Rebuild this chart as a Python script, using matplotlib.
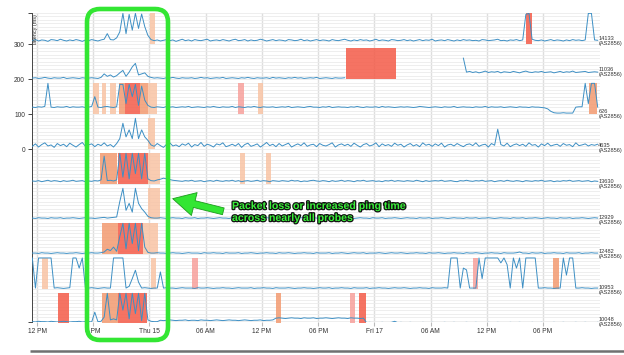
import numpy as np
import matplotlib
matplotlib.use("Agg")
import matplotlib.pyplot as plt
from matplotlib.patches import FancyBboxPatch, FancyArrowPatch
import matplotlib.patheffects as pe

plt.rcParams['font.family'] = ['Liberation Sans', 'DejaVu Sans']

# probes, top to bottom
probes = ["14133", "11036", "626", "4635", "13630", "12929", "12482", "10953", "10048"]
asn = "AS2856"

# ping samples every 20 minutes starting 11:30 Wed (ms above each probe's floor)
p14133 = [10,13,9,12,11,8,13,12,10,14,11,9,12,10,13,11,8,12,10,13,
          11,9,12,14,30,13,12,18,35,88,30,85,40,88,45,86,50,25,13,10,
          12,9,11,13,10,12,8,11,14,10,12,9,13,11,10,12,14,9,11,12,
          10,13,11,9,12,14,10,11,13,9,12,10,11,14,12,9,11,13,10,12,
          11,9,13,12,10,11,14,10,12,9,11,13,10,12,11,9,13,11,10,12,
          14,11,9,12,10,13,11,12,9,11,14,10,12,11,9,13,12,10,11,13,
          10,12,9,11,13,10,12,11,14,9,11,12,10,13,11,9,12,10,13,11,
          12,10,11,9,13,12,10,11,12,14,10,11,9,12,11,13,10,12,85,88,
          14,11,10,12,9,11,13,10,12,11,9,12,10,13,11,12,10,12,88,88,12,11]
p11036 = [3,4,2,3,5,3,2,4,3,3,5,2,3,4,3,2,4,3,3,4,
          3,2,5,15,8,12,6,10,18,25,8,20,35,45,12,15,18,8,5,3,
          4,3,2,4,3,5,3,2,4,3,3,4,2,3,5,3,4,2,3,4,
          3,5,2,3,4,3,2,4,3,5,3,2,4,3,3,4,2,5,3,4,
          3,2,4,3,5,3,4,2,3,4,3,5,2,3,4,3,2,4,3,3,
          4] + [None] * 37 + [
          60,20,22,19,21,18,20,23,19,21,20,22,18,21,20,19,22,20,18,21,23,20,
          19,21,20,22,19,20,21,18,20,22,19,21,20,23,19,20,21,22,19,20,21,20]
p626 = [20,19,21,20,22,88,20,19,21,20,20,22,19,21,20,20,21,19,20,22,
        50,20,19,21,22,20,19,21,85,85,30,85,50,85,25,80,40,25,20,19,
        21,20,19,22,20,21,19,20,21,20,22,19,20,21,20,19,21,20,22,20,
        19,21,20,20,22,19,21,20,19,21,20,22,20,19,21,20,20,21,19,20,
        21,20,22,19,20,21,20,19,21,22,20,20,19,21,20,22,19,20,21,20,
        20,19,21,20,22,20,19,21,20,20,21,19,22,20,21,20,19,20,21,20,
        21,20,19,20,22,21,20,19,20,21,20,19,21,20,20,22,19,20,21,20,
        20,19,21,20,20,22,19,21,20,20,21,19,20,21,20,19,21,20,20,19,
        21,20,20,19,18,15,8,4,3,3,4,3,3,3,20,21,21,88,30,88,88,20]
p4635 = [8,15,6,13,18,9,12,5,16,10,14,7,17,11,6,13,19,8,12,15,
         7,14,10,18,9,13,6,16,30,74,35,55,30,88,30,55,35,25,12,8,
         16,10,5,14,18,9,12,7,15,11,17,6,13,10,19,8,14,11,6,15,
         12,18,7,10,14,9,16,5,13,17,8,11,15,6,12,19,10,14,7,16,
         9,13,17,6,11,15,10,18,8,12,14,7,16,11,9,13,18,6,12,15,
         10,14,8,17,11,6,13,16,9,12,18,7,15,10,13,8,17,11,14,6,
         12,16,9,13,7,18,11,14,8,15,10,17,6,12,14,9,16,11,7,13,
         15,10,18,8,12,14,6,16,11,57,13,9,17,7,12,15,10,14,8,18,
         11,13,6,15,10,17,9,12,14,8,16,11,13,7,18,10,12,15,9,13,11,14]
p13630 = [9,8,10,7,9,11,8,10,9,7,10,8,9,11,8,9,10,7,9,8,
          10,9,12,80,10,11,9,12,88,20,88,15,88,30,88,15,88,15,10,9,
          12,14,17,15,13,11,10,9,8,10,9,11,8,9,10,7,9,10,8,11,
          9,8,10,9,11,8,10,7,9,10,8,9,11,8,10,9,7,10,9,8,
          10,9,8,11,9,10,7,9,8,10,11,9,8,10,9,7,10,8,9,11,
          8,10,9,7,10,9,11,8,9,10,8,9,7,10,9,11,8,10,9,8,
          10,9,8,11,9,7,10,8,9,10,9,11,8,9,10,8,7,10,9,11,
          9,8,10,9,11,8,9,10,7,9,10,8,11,9,8,10,9,7,10,9,
          8,10,9,11,8,9,10,7,9,8,10,9,11,8,9,10,8,9,10,7,9,8]
p12929 = [3,2,4,3,3,2,4,3,3,4,2,3,3,4,3,2,3,4,3,3,
          2,3,4,5,3,4,5,6,50,88,25,45,20,88,45,30,20,8,4,3,
          3,4,3,2,3,4,3,3,2,4,3,3,4,2,3,3,4,3,2,3,
          4,3,3,2,4,3,3,4,2,3,3,4,3,2,3,4,3,3,2,4,
          3,3,4,2,3,3,4,3,2,3,4,3,3,2,4,3,3,4,2,3,
          3,4,3,2,3,4,3,3,2,4,3,3,4,2,3,3,4,3,2,3,
          4,3,3,2,4,3,3,4,2,3,3,4,3,2,3,4,3,3,2,4,
          3,3,4,2,3,3,4,3,2,3,4,3,3,2,4,3,3,4,2,3,
          3,4,3,2,3,4,3,3,2,4,3,3,4,2,3,3,4,3,2,3,4,3]
p12482 = [3,3,2,4,3,3,2,3,4,3,3,2,3,3,4,3,2,3,3,4,
          3,3,4,6,14,10,20,8,50,88,15,88,30,88,10,88,20,5,3,3,
          4,3,3,2,3,4,3,3,2,3,4,3,3,3,2,4,3,3,4,3,
          3,2,4,3,3,3,4,2,3,3,4,3,2,3,3,4,3,3,2,4,
          3,3,4,3,2,3,3,4,3,3,2,4,3,3,3,4,2,3,3,4,
          3,2,3,4,3,3,4,2,3,3,3,4,3,2,3,4,3,3,4,3,
          2,3,3,4,3,3,2,4,3,3,4,3,2,3,3,4,3,3,2,4,
          3,3,4,3,2,3,3,4,3,3,2,4,3,3,3,4,6,3,3,2,
          4,3,3,4,2,3,3,4,3,3,2,4,3,3,3,4,2,3,3,4,3,3]
p10953 = [89,3,89,89,89,89,89,3,4,3,2,3,4,89,89,60,89,3,3,4,
          3,2,3,4,3,3,89,89,89,89,3,8,30,54,20,3,4,3,2,3,
          3,49,3,4,3,3,2,3,4,3,3,3,2,4,3,3,4,3,2,3,
          3,4,3,3,2,3,4,3,3,3,4,2,3,3,4,3,3,2,4,3,
          3,3,4,3,2,3,3,4,3,3,2,3,4,3,3,4,2,3,3,4,
          3,3,2,4,3,3,3,4,2,3,3,4,3,3,2,3,4,3,3,4,
          3,2,3,3,4,3,3,2,4,3,3,3,4,3,89,89,89,3,60,55,
          3,3,3,89,30,89,89,89,89,89,75,89,70,3,89,60,89,3,89,89,
          89,89,3,3,4,3,3,2,3,3,89,40,89,89,3,3,4,3,3,2,3,3]
p10048 = [7,6,8,7,7,6,8,7,6,7,8,7,6,7,7,8,6,7,7,6,
          34,7,8,20,88,12,15,12,88,40,88,15,88,30,88,10,88,12,8,7,
          7,11,10,11,12,11,10,11,11,12,10,11,11,10,12,11,11,10,11,12,
          11,10,11,12,11,11,10,11,12,11,10,11,11,12,10,11,11,12,17,18,
          17,16,17,18,17,17,16,18,17,17,18,16,17,17,18,17,16,17,18,17,
          17,16,18,17,17,16,17,4,5,4,3,4,5,4,4,5,8,4,5,4,
          4,5,4,4,3,5,4,4,5,4,3,4,5,4,4,5,4,3,4,5,
          4,4,5,4,3,4,5,4,4,5,4,4,3,5,4,4,5,4,4,3,
          5,4,4,5,4,3,4,5,4,4,5,4,3,4,5,4,4,5,4,4,3,5]
series = [p14133, p11036, p626, p4635, p13630, p12929, p12482, p10953, p10048]

# packet loss periods: probe index, start hour, end hour, severity
loss_probe = [0, 0, 1, 2, 2, 2, 2, 2, 2, 2, 2, 2, 2, 3, 4, 4, 4, 4, 4, 5,
              6, 6, 6, 7, 7, 7, 7, 7, 8, 8, 8, 8, 8, 8]
loss_start = [12.06, 52.19, 32.98, 5.98, 6.94, 7.79, 8.75, 9.39, 10.99, 11.85, 21.45, 23.59, 58.91, 11.85,
              6.72, 8.64, 11.85, 21.66, 24.44, 11.85,
              6.94, 8.64, 11.31, 0.53, 12.17, 16.54, 46.53, 55.07,
              2.24, 6.94, 8.64, 25.51, 33.40, 34.37]
loss_end = [12.59, 52.83, 38.31, 6.62, 7.36, 8.43, 9.39, 10.99, 11.85, 12.81, 22.09, 24.12, 59.76, 12.59,
            8.54, 11.85, 13.13, 22.20, 24.97, 13.13,
            8.64, 11.31, 12.91, 1.17, 12.70, 17.18, 47.07, 55.71,
            3.42, 8.64, 11.74, 26.04, 33.94, 35.11]
loss_kind = ["light", "red", "red", "light", "light", "light", "orange", "red", "orange", "light", "pink", "light", "orange", "light",
             "orange", "red", "light", "light", "light", "light",
             "orange", "red", "light", "light", "light", "pink", "pink", "orange",
             "red", "orange", "red", "orange", "pink", "red"]

tick_hours = [0, 6, 12, 18, 24, 30, 36, 42, 48, 54]
tick_labels = ["12 PM", "6 PM", "Thu 15", "06 AM", "12 PM", "06 PM", "Fri 17", "06 AM", "12 PM", "06 PM"]

row_floor = [300, 200, 100, 0, -100, -200, -300, -400, -500]
label_at = [10, 20, 0, 4, 0, -3, 0, -3, 6]
kind_color = {"light": "#f8c3a4", "orange": "#f39a70", "pink": "#f7a09b", "red": "#f45b48"}
line_color = "#3d8fc4"

fig = plt.figure(figsize=(6.24, 3.55), dpi=100)
ax = fig.add_axes([32 / 624, 33 / 355, 568 / 624, 309 / 355])
ax.set_xlim(-0.534, 60.08)
ax.set_ylim(-494, 389)

for p, s, e, k in zip(loss_probe, loss_start, loss_end, loss_kind):
    ax.fill_between([s, e], row_floor[p], row_floor[p] + 90, color=kind_color[k],
                    alpha=0.85, lw=0, zorder=2)

for i, vals in enumerate(series):
    v = np.array(vals, dtype=float)
    hours = -0.5 + np.arange(len(v)) / 3
    ax.plot(hours, row_floor[i] + v, color=line_color, lw=0.7, zorder=3)
    ax.text(0.997, row_floor[i] + label_at[i], f"{probes[i]}\n({asn})",
            transform=ax.get_yaxis_transform(), fontsize=4.1, color="#333",
            va="center", ha="left", linespacing=1.05)

# grid
ax.set_yticks(np.arange(-490, 389, 10), minor=True)
ax.grid(which="minor", axis="y", color="#ebebeb", lw=0.6, zorder=0)
ax.set_yticks([-494, 0, 100, 200, 300, 389])
ax.set_yticklabels(["", "0", "100", "200", "300", ""])
ax.set_xticks(tick_hours)
ax.set_xticklabels(tick_labels)
ax.grid(which="major", axis="x", color="#dedede", lw=1.0, zorder=0)
ax.grid(which="major", axis="y", color="#ebebeb", lw=0.6, zorder=0)
ax.tick_params(axis="y", which="major", length=3, width=0.7, color="#444",
               labelsize=4.8, labelcolor="#333", pad=2)
ax.tick_params(axis="y", which="minor", length=0)
ax.tick_params(axis="x", length=3, width=0.8, color="#bbb", labelsize=4.8,
               labelcolor="#333", pad=1.5)
for side in ["top", "right", "bottom"]:
    ax.spines[side].set_visible(False)
ax.spines["left"].set_color("#444")
ax.spines["left"].set_linewidth(0.7)
ax.text(33.5 / 624, 1 - 14 / 355, "latency (ms)", transform=fig.transFigure,
        rotation=90, fontsize=4.0, color="#333", ha="left", va="top")

# annotation layer in pixel units
ov = fig.add_axes([0, 0, 1, 1], zorder=10)
ov.set_xlim(0, 624)
ov.set_ylim(355, 0)
ov.axis("off")
ov.patch.set_alpha(0)

green = "#33e633"
ov.add_patch(FancyBboxPatch((87, 9), 81, 331, boxstyle="round,pad=0,rounding_size=13",
                            fc="none", ec=green, lw=3.3))
ov.add_patch(FancyArrowPatch((226, 212), (170, 198),
                             arrowstyle="simple,head_length=1.6,head_width=1.7,tail_width=0.5",
                             mutation_scale=10, fc=green, ec="#1c9c1c", lw=0.6))
ov.text(232, 201, "Packet loss or increased ping time\nacross nearly all probes",
        fontsize=7.6, fontweight="bold", color="#3af03a", ha="left", va="top",
        linespacing=1.25,
        path_effects=[pe.withStroke(linewidth=1.8, foreground="#111")])
ov.plot([30, 624], [351, 351], color="#707070", lw=1.8, solid_capstyle="butt")

fig.savefig("out.png", dpi=100)
